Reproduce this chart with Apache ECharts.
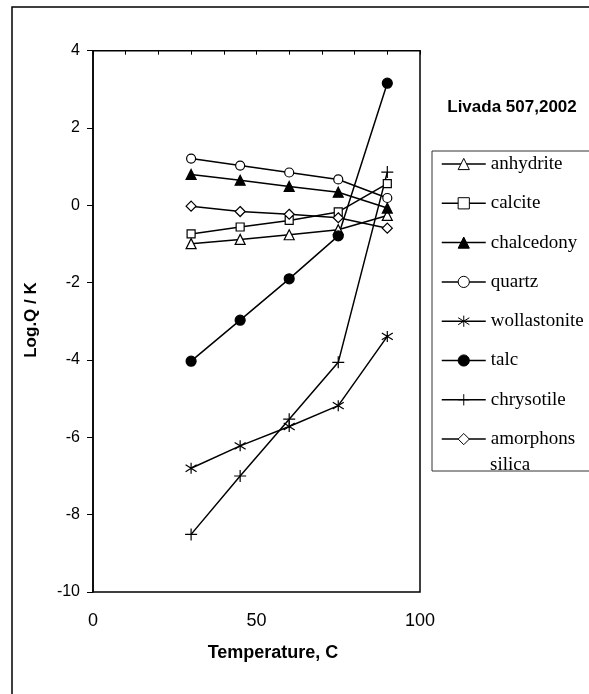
<!DOCTYPE html>
<html><head><meta charset="utf-8">
<script src="https://cdn.jsdelivr.net/npm/echarts@6/dist/echarts.min.js"></script>
<style>html,body{margin:0;padding:0;background:#fff}#c{width:589px;height:694px}</style>
</head><body><div id="c"></div>
<script>
// Data
const temperatures = [30, 45, 60, 75, 90];
const anhydrite = [-0.99, -0.88, -0.76, -0.63, -0.26];
const calcite = [-0.74, -0.56, -0.39, -0.17, 0.56];
const chalcedony = [0.80, 0.65, 0.49, 0.34, -0.07];
const quartz = [1.21, 1.03, 0.85, 0.67, 0.19];
const wollastonite = [-6.80, -6.22, -5.72, -5.18, -3.39];
const talc = [-4.03, -2.97, -1.90, -0.79, 3.16];
const chrysotile = [-8.51, -7.00, -5.53, -4.06, 0.86];
const amorphonsSilica = [-0.02, -0.16, -0.23, -0.32, -0.59];
const seriesNames = ['anhydrite', 'calcite', 'chalcedony', 'quartz', 'wollastonite', 'talc', 'chrysotile', 'amorphons silica'];
const chartTitle = 'Livada 507,2002';
const xName = 'Temperature, C';
const yName = 'Log.Q / K';

const plusPath = 'path://M0,5L10,5M5,0L5,10';
const starPath = 'path://M5,0L5,10M0.6,1.9L9.4,8.1M0.6,8.1L9.4,1.9';

const styles = {
  'anhydrite': {symbol: 'triangle', size: 10, fill: '#fff'},
  'calcite': {symbol: 'rect', size: 8, fill: '#fff'},
  'chalcedony': {symbol: 'triangle', size: 10, fill: '#000'},
  'quartz': {symbol: 'circle', size: 9, fill: '#fff'},
  'wollastonite': {symbol: starPath, size: 11, fill: '#000'},
  'talc': {symbol: 'circle', size: 10, fill: '#000'},
  'chrysotile': {symbol: plusPath, size: 12, fill: '#000'},
  'amorphons silica': {symbol: 'diamond', size: 10, fill: '#fff'}
};
const values = [anhydrite, calcite, chalcedony, quartz, wollastonite, talc, chrysotile, amorphonsSilica];

const chart = echarts.init(document.getElementById('c'));
const series = seriesNames.map((name, k) => ({
  name: name,
  type: 'line',
  data: temperatures.map((t, i) => [t, values[k][i]]),
  symbol: styles[name].symbol,
  symbolSize: styles[name].size,
  showAllSymbol: true,
  lineStyle: {color: '#000', width: 1.5},
  itemStyle: {color: styles[name].fill, borderColor: '#000', borderWidth: 1.2},
  emphasis: {disabled: true},
  animation: false
}));

chart.setOption({
  animation: false,
  grid: {left: 93, top: 50.7, right: 169, bottom: 102, show: true, borderColor: '#000', borderWidth: 1.5, containLabel: false, outerBoundsMode: 'none'},
  xAxis: [
    {type: 'value', position: 'bottom', min: 0, max: 100, interval: 50,
     axisLine: {show: false}, axisTick: {show: false}, splitLine: {show: false},
     axisLabel: {fontSize: 18, color: '#000', margin: 20, fontFamily: 'Arial'}},
    {type: 'value', position: 'top', min: 0, max: 100, interval: 10,
     axisLine: {show: true, onZero: true, lineStyle: {color: '#000', width: 1}},
     axisTick: {show: true, inside: true, length: 4, lineStyle: {color: '#000', width: 1}},
     axisLabel: {show: false}, splitLine: {show: false}}
  ],
  yAxis: {type: 'value', min: -10, max: 4, interval: 2,
    axisLine: {show: true, onZero: false, lineStyle: {color: '#000', width: 1.5}},
    axisTick: {show: true, length: 6, lineStyle: {color: '#000', width: 1}},
    axisLabel: {fontSize: 16, color: '#000', margin: 13, fontFamily: 'Arial'},
    splitLine: {show: false}},
  legend: {
    orient: 'vertical', left: 441, top: 150.5, itemWidth: 44, itemHeight: 14, itemGap: 12.3, padding: 0,
    selectedMode: false, data: seriesNames,
    textStyle: {fontFamily: 'Liberation Serif', fontSize: 19, color: '#000', lineHeight: 27},
    formatter: n => n === 'amorphons silica' ? 'amorphons' : n,
    lineStyle: {color: '#000', width: 1.5},
    itemStyle: {borderColor: '#000', borderWidth: 1}
  },
  graphic: [
    {type: 'rect', silent: true, shape: {x: 12, y: 7, width: 640, height: 740}, style: {fill: 'none', stroke: '#000', lineWidth: 1.5}},
    {type: 'rect', silent: true, shape: {x: 432, y: 151, width: 220, height: 320}, style: {fill: 'none', stroke: '#333', lineWidth: 1}},
    {type: 'text', silent: true, x: 490, y: 465.5, style: {text: 'silica', align: 'left', verticalAlign: 'middle', font: '19px "Liberation Serif"', fill: '#000'}},
    {type: 'text', silent: true, x: 512, y: 107, style: {text: chartTitle, align: 'center', verticalAlign: 'middle', font: 'bold 17px Arial', fill: '#000'}},
    {type: 'text', silent: true, x: 273, y: 653, style: {text: xName, align: 'center', verticalAlign: 'middle', font: 'bold 18px Arial', fill: '#000'}},
    {type: 'text', silent: true, x: 31, y: 320, rotation: Math.PI / 2, style: {text: yName, align: 'center', verticalAlign: 'middle', font: 'bold 17px Arial', fill: '#000'}}
  ],
  series: series
});
</script></body></html>
